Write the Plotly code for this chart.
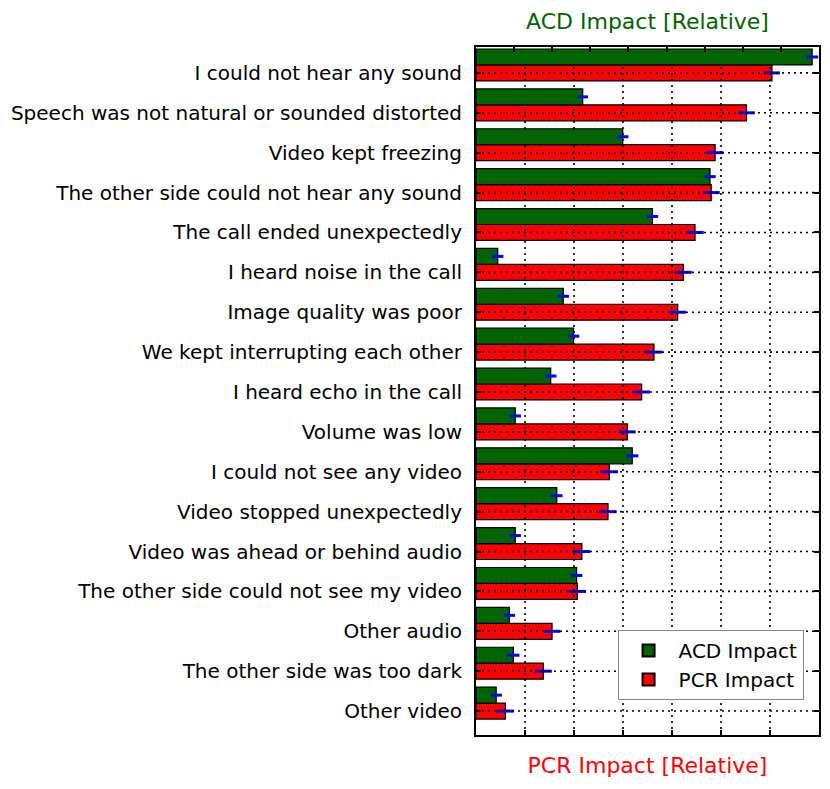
import plotly.graph_objects as go

categories = [
    "I could not hear any sound",
    "Speech was not natural or sounded distorted",
    "Video kept freezing",
    "The other side could not hear any sound",
    "The call ended unexpectedly",
    "I heard noise in the call",
    "Image quality was poor",
    "We kept interrupting each other",
    "I heard echo in the call",
    "Volume was low",
    "I could not see any video",
    "Video stopped unexpectedly",
    "Video was ahead or behind audio",
    "The other side could not see my video",
    "Other audio",
    "The other side was too dark",
    "Other video",
]
acd_impact = [0.882, 0.280, 0.385, 0.614, 0.463, 0.057, 0.229, 0.256, 0.196, 0.103,
              0.410, 0.212, 0.103, 0.264, 0.0875, 0.098, 0.053]
acd_err = [0.016, 0.014, 0.015, 0.015, 0.015, 0.015, 0.015, 0.015, 0.015, 0.015,
           0.016, 0.015, 0.015, 0.015, 0.015, 0.016, 0.015]
pcr_impact = [0.302, 0.276, 0.244, 0.240, 0.2235, 0.2116, 0.2058, 0.1816, 0.169, 0.1544,
              0.136, 0.1347, 0.108, 0.1034, 0.0776, 0.0687, 0.030]
pcr_err = [0.0082, 0.0085, 0.0085, 0.0087, 0.0089, 0.0085, 0.0085, 0.0085, 0.0085, 0.0085,
           0.0089, 0.0089, 0.0085, 0.0089, 0.0085, 0.0087, 0.0089]
pcr_ticks = [0.0, 0.05, 0.10, 0.15, 0.20, 0.25, 0.30, 0.35]
acd_ticks = [0.0, 0.1, 0.2, 0.3, 0.4, 0.5, 0.6, 0.7, 0.8, 0.9]

n = len(categories)
y_pos = [n - 1 - i for i in range(n)]
bar_h = 0.4
y_range = [-0.6, n - 1 + bar_h + 0.25]
pcr_range = [pcr_ticks[0], pcr_ticks[-1]]
acd_range = [acd_ticks[0], acd_ticks[-1]]

FONT = "DejaVu Sans"
fig = go.Figure()

# PCR bars (bottom axis)
fig.add_trace(go.Bar(
    y=y_pos, x=pcr_impact, orientation="h", width=bar_h,
    name="PCR Impact", legendrank=2, legendgroup="pcr",
    marker=dict(color="#ff0000", line=dict(color="black", width=1.2)),
    error_x=dict(type="data", array=pcr_err, color="blue", thickness=3, width=0),
    xaxis="x", yaxis="y",
))

# dotted grid drawn above PCR bars
gx, gy = [], []
for t in pcr_ticks[1:-1]:
    gx += [t, t, None]
    gy += [y_range[0], y_range[1], None]
for yp in y_pos:
    gx += [pcr_range[0], pcr_range[1], None]
    gy += [yp, yp, None]
fig.add_trace(go.Scatter(
    x=gx, y=gy, mode="lines", showlegend=False, hoverinfo="skip",
    line=dict(color="black", width=1.6, dash="2px,4px"),
    xaxis="x", yaxis="y",
))

# ACD bars (top axis, overlay)
fig.add_trace(go.Bar(
    y=[p + bar_h for p in y_pos], x=acd_impact, orientation="h", width=bar_h,
    name="ACD Impact", legendrank=1, legendgroup="acd",
    marker=dict(color="#006400", line=dict(color="black", width=1.2)),
    error_x=dict(type="data", array=acd_err, color="blue", thickness=3, width=0),
    xaxis="x2", yaxis="y",
))

fig.update_layout(
    width=822, height=781,
    margin=dict(l=468, r=11, t=39, b=54),
    paper_bgcolor="white", plot_bgcolor="white",
    font=dict(family=FONT, size=20, color="black"),
    barmode="overlay",
    showlegend=True,
    legend=dict(
        x=0.955, y=0.051, xanchor="right", yanchor="bottom",
        bgcolor="white", bordercolor="#888888", borderwidth=1,
        font=dict(family=FONT, size=20),
        itemsizing="constant", itemwidth=50,
        traceorder="grouped", tracegroupgap=0,
    ),
    xaxis=dict(
        range=pcr_range, tickvals=pcr_ticks, showticklabels=False,
        ticks="inside", ticklen=5, tickwidth=1.5, tickcolor="black",
        showline=True, linecolor="black", linewidth=2, mirror=False,
        showgrid=False, zeroline=False, automargin=False,
        title=dict(text="PCR Impact [Relative]", font=dict(color="#ff0000", size=22, family=FONT), standoff=22),
    ),
    xaxis2=dict(
        range=acd_range, tickvals=acd_ticks, showticklabels=False,
        overlaying="x", side="top", anchor="y",
        ticks="inside", ticklen=5, tickwidth=1.5, tickcolor="black",
        showline=True, linecolor="black", linewidth=2,
        showgrid=False, zeroline=False, automargin=False,
        title=dict(text="ACD Impact [Relative]", font=dict(color="#006400", size=22, family=FONT), standoff=9),
    ),
    yaxis=dict(
        range=y_range, tickvals=y_pos, ticktext=categories,
        ticks="inside", ticklen=5, tickwidth=1.5, tickcolor="black",
        showline=True, linecolor="black", linewidth=2, mirror="ticks",
        showgrid=False, zeroline=False, automargin=False,
        ticklabelstandoff=8,
        tickfont=dict(family=FONT, size=20, color="black"),
    ),
)

fig.write_html("out.html")
